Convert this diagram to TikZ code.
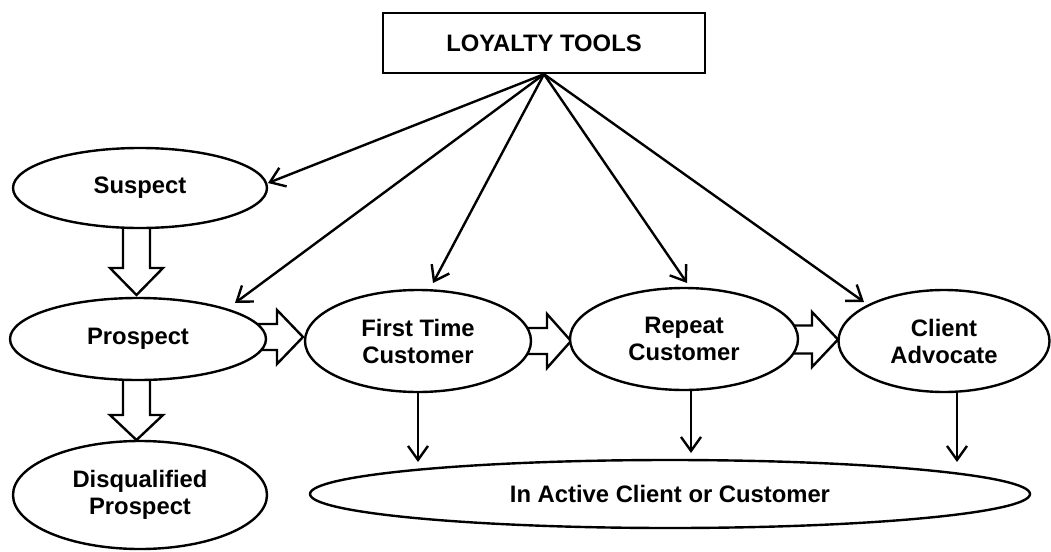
\documentclass[tikz,border=0pt]{standalone}
\usepackage{fontspec}
\setmainfont{Liberation Sans}
\usetikzlibrary{arrows.meta,shapes.geometric}
\begin{document}
\begin{tikzpicture}[x=1pt,y=-1pt,line width=2.4pt,
  txt/.style={font=\bfseries\fontsize{23.8}{27}\selectfont},
  el/.style={ellipse,draw,fill=white,inner sep=0pt,align=center,txt},
  thinarrow/.style={-{Straight Barb[length=14pt,width=20pt]}},
  blk/.style={draw,fill=white,line join=miter}]
\useasboundingbox (0,0) rectangle (1051,551);
% block arrows (drawn first, ellipses cover the shaft starts)
\draw[blk] (123,215) -- (123,268) -- (110,268) -- (136.5,295) -- (163,268) -- (150,268) -- (150,215) -- cycle;
\draw[blk] (123,370) -- (123,415) -- (110,415) -- (136.5,440) -- (163,415) -- (150,415) -- (150,370) -- cycle;
\draw[blk] (245,324) -- (277,324) -- (277,310) -- (303,337) -- (277,364) -- (277,350) -- (245,350) -- cycle;
\draw[blk] (520,328) -- (547,328) -- (547,314) -- (571,341) -- (547,368) -- (547,354) -- (520,354) -- cycle;
\draw[blk] (785,325.5) -- (812,325.5) -- (812,312) -- (838,339.5) -- (812,367) -- (812,353.5) -- (785,353.5) -- cycle;
% nodes
\node[draw,fill=white,minimum width=322pt,minimum height=60pt,inner sep=0pt,txt] (tools) at (544,43) {LOYALTY TOOLS};
\node[el,minimum width=254pt,minimum height=80pt] (suspect) at (140,188) {Suspect};
\node[el,minimum width=256pt,minimum height=82pt] (prospect) at (138,339) {Prospect};
\node[el,minimum width=254pt,minimum height=108pt] (disq) at (140,495) {Disqualified\\Prospect};
\node[el,minimum width=226pt,minimum height=102pt] (ftc) at (418,341) {First Time\\Customer};
\node[el,minimum width=228pt,minimum height=102pt] (repeat) at (684,339) {Repeat\\Customer};
\node[el,minimum width=211pt,minimum height=102pt] (client) at (944,341) {Client\\Advocate};
\node[el,minimum width=720pt,minimum height=68pt] (inactive) at (670,494) {In Active Client or Customer};
% tips
\coordinate (t1) at (268,183);
\coordinate (t2) at (235,303);
\coordinate (t3) at (433,283);
\coordinate (t4) at (687,283);
\coordinate (t5) at (864,302);
\coordinate (d1) at (418,462);
\coordinate (d2) at (691,453);
\coordinate (d3) at (957,462);
\foreach \t in {t1,t2,t3,t4,t5}
  \draw[thinarrow] (tools.south) -- (\t);
\draw[thinarrow] (ftc.south -| d1) -- (d1);
\draw[thinarrow] (repeat.south -| d2) -- (d2);
\draw[thinarrow] (client.south -| d3) -- (d3);
\end{tikzpicture}
\end{document}
